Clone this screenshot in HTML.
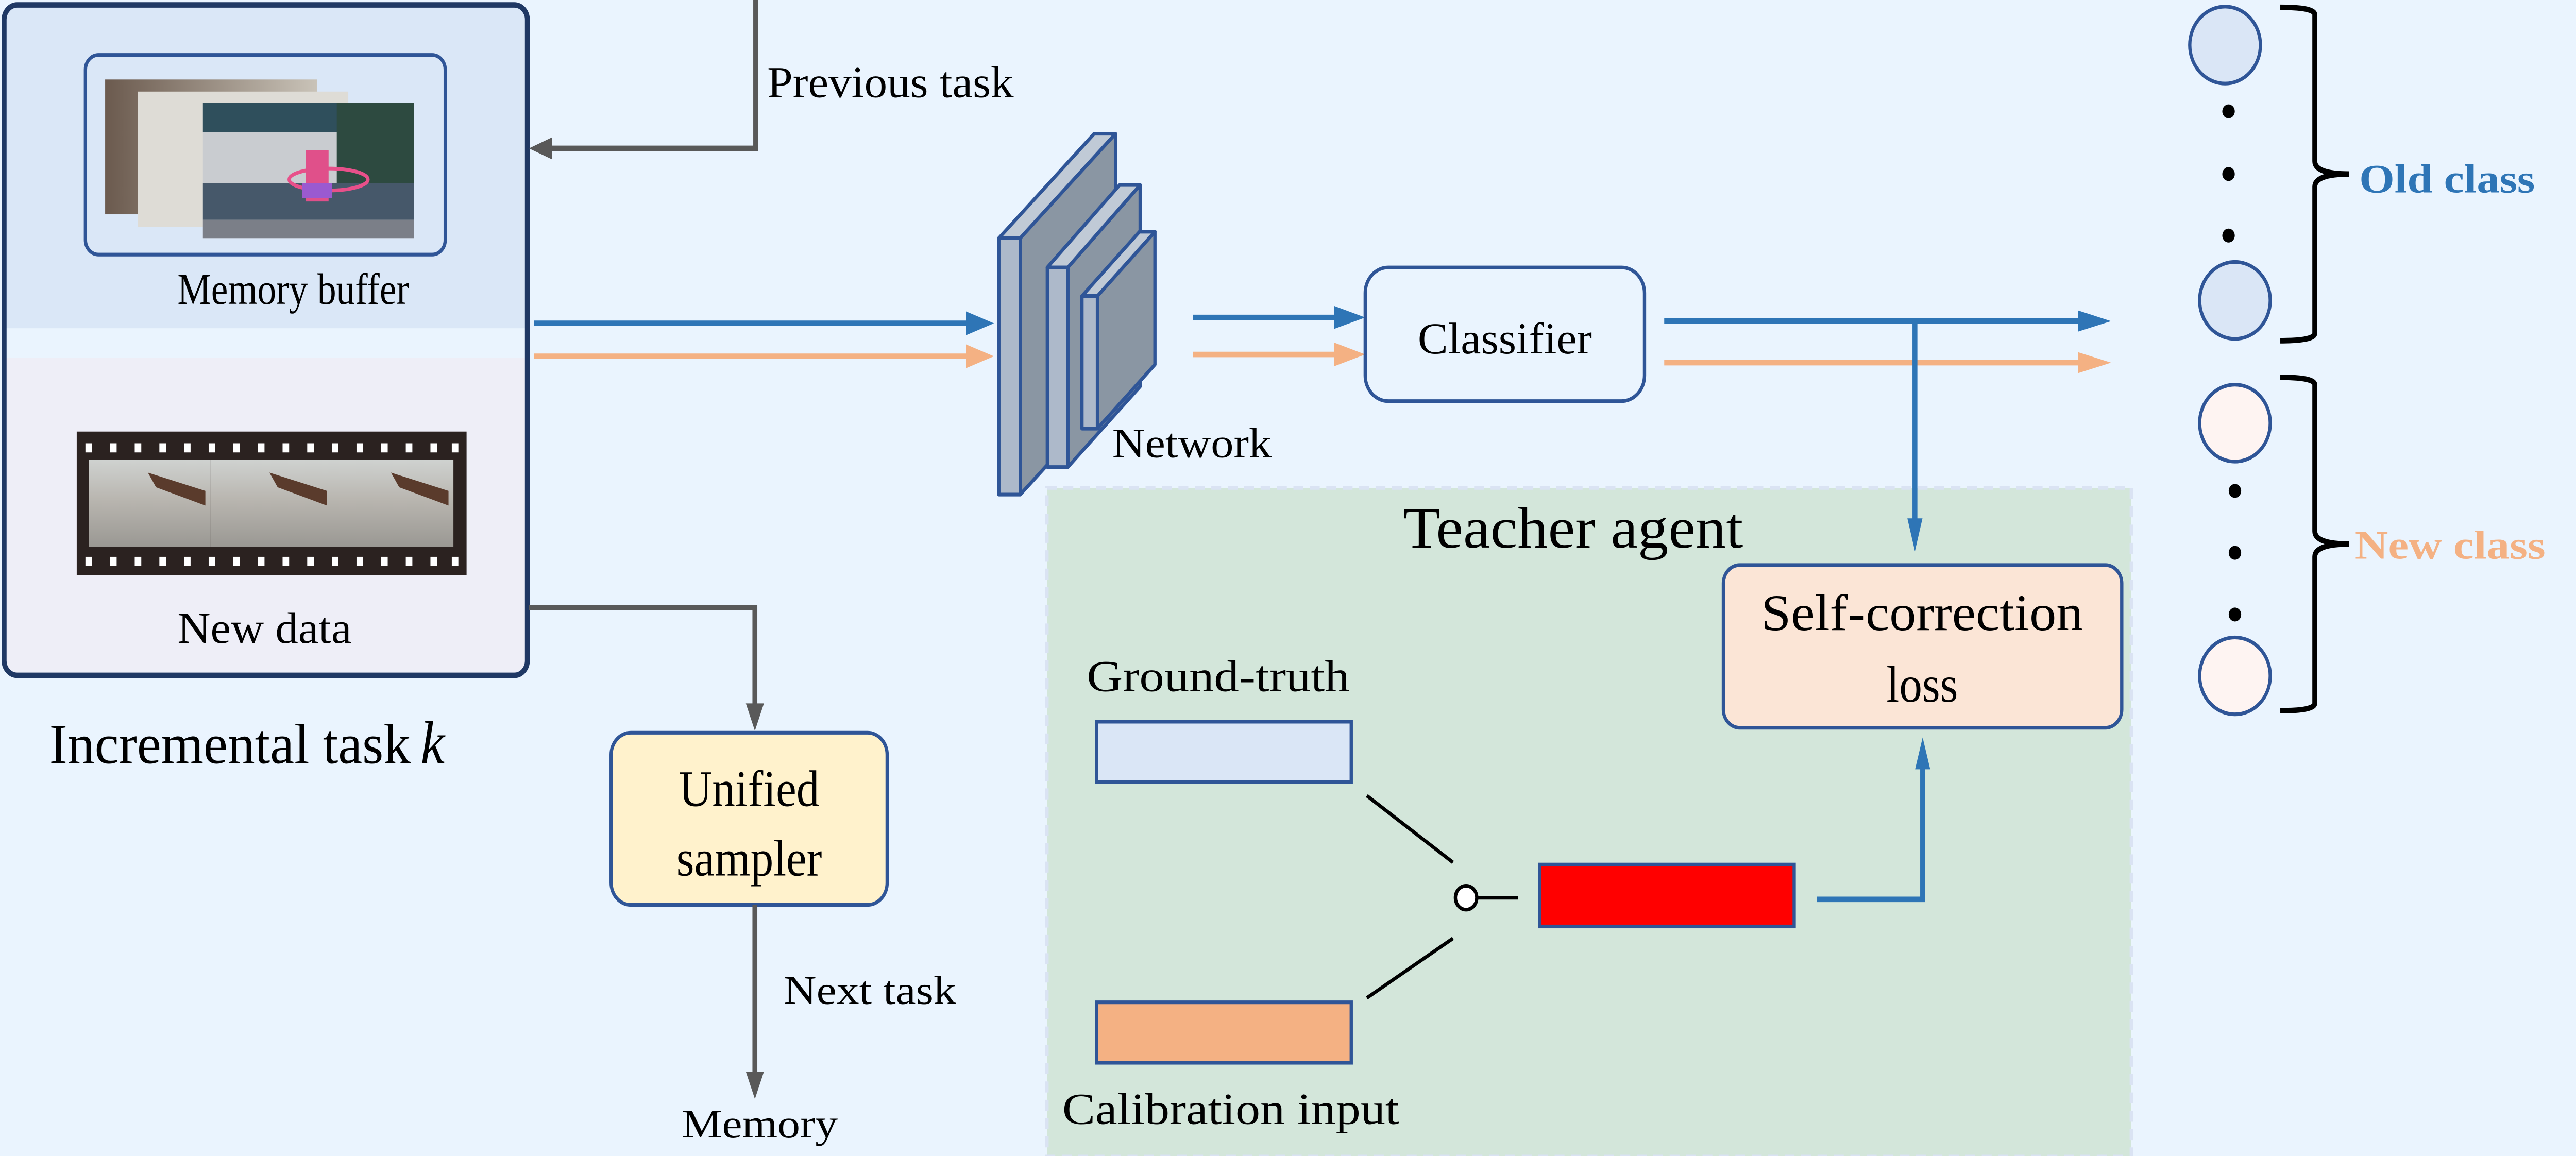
<!DOCTYPE html>
<html><head><meta charset="utf-8"><style>
html,body{margin:0;padding:0;background:#EAF4FE;overflow:hidden;width:100%;height:100%;}
svg{display:block;position:fixed;left:0;top:0;width:100vw;height:100vh;}
text{font-family:"Liberation Serif","Times New Roman",serif;fill:#000;}
</style></head><body>
<svg viewBox="0 0 1568 631.1" preserveAspectRatio="none" xmlns="http://www.w3.org/2000/svg" font-family="'Liberation Serif', 'Times New Roman', serif">
<defs>
<linearGradient id="g1" x1="0" y1="0" x2="1" y2="0"><stop offset="0" stop-color="#6b5a4e"/><stop offset="1" stop-color="#c9c3b8"/></linearGradient>
<linearGradient id="fl" x1="0" y1="0" x2="0" y2="1"><stop offset="0" stop-color="#cfd2d0"/><stop offset="0.45" stop-color="#b9b6b0"/><stop offset="1" stop-color="#9a9893"/></linearGradient>
</defs>
<rect x="0" y="0" width="1568" height="631.1" rx="8" fill="#EAF4FE"/>

<rect x="2.5" y="2.7" width="318.5" height="366" rx="8" fill="#EAF4FE"/>
<rect x="3.5" y="3.7" width="316.5" height="175.5" fill="#DAE7F7"/>
<rect x="3.5" y="195.4" width="316.5" height="172" fill="#EEEEF7"/>
<rect x="2.5" y="2.7" width="318.5" height="366" rx="8" fill="none" stroke="#1F3864" stroke-width="3"/>
<rect x="52" y="30" width="219" height="109" rx="8" fill="none" stroke="#2F5597" stroke-width="2"/>
<rect x="64" y="43.4" width="129" height="73.6" fill="url(#g1)"/>
<rect x="84" y="50" width="128" height="74" fill="#dedcd6"/>
<rect x="123.5" y="56" width="128.5" height="74" fill="#c9ccd0"/>
<rect x="123.5" y="56" width="128.5" height="16" fill="#2f4f5c"/>
<rect x="205" y="56" width="47" height="60" fill="#2d4a40"/>
<rect x="123.5" y="100" width="128.5" height="20" fill="#46586a"/>
<rect x="123.5" y="120" width="128.5" height="10" fill="#7b7f88"/>
<ellipse cx="200" cy="98" rx="24" ry="6" fill="none" stroke="#e8508a" stroke-width="2"/>
<rect x="186" y="82" width="14" height="28" fill="#e0508a"/>
<rect x="184" y="100" width="18" height="8" fill="#9a5ad0"/>
<text x="108" y="166" font-size="24" textLength="141" lengthAdjust="spacingAndGlyphs">Memory buffer</text>

<rect x="46.7" y="235.6" width="237.3" height="78.4" fill="#2B2220"/>
<rect x="54" y="251" width="74" height="47.6" fill="url(#fl)"/>
<rect x="128" y="251" width="74" height="47.6" fill="url(#fl)"/>
<rect x="202" y="251" width="74" height="47.6" fill="url(#fl)"/>
<path d="M90 258 L125 268 L125 276 L95 266Z M164 258 L199 268 L199 276 L169 266Z M238 258 L273 268 L273 276 L243 266Z" fill="#5a3b2c"/>
<g fill="#fff">
<rect x="52" y="242" width="4" height="5"/><rect x="67" y="242" width="4" height="5"/><rect x="82" y="242" width="4" height="5"/><rect x="97" y="242" width="4" height="5"/><rect x="112" y="242" width="4" height="5"/><rect x="127" y="242" width="4" height="5"/><rect x="142" y="242" width="4" height="5"/><rect x="157" y="242" width="4" height="5"/><rect x="172" y="242" width="4" height="5"/><rect x="187" y="242" width="4" height="5"/><rect x="202" y="242" width="4" height="5"/><rect x="217" y="242" width="4" height="5"/><rect x="232" y="242" width="4" height="5"/><rect x="247" y="242" width="4" height="5"/><rect x="262" y="242" width="4" height="5"/><rect x="275" y="242" width="4" height="5"/>
<rect x="52" y="304" width="4" height="5"/><rect x="67" y="304" width="4" height="5"/><rect x="82" y="304" width="4" height="5"/><rect x="97" y="304" width="4" height="5"/><rect x="112" y="304" width="4" height="5"/><rect x="127" y="304" width="4" height="5"/><rect x="142" y="304" width="4" height="5"/><rect x="157" y="304" width="4" height="5"/><rect x="172" y="304" width="4" height="5"/><rect x="187" y="304" width="4" height="5"/><rect x="202" y="304" width="4" height="5"/><rect x="217" y="304" width="4" height="5"/><rect x="232" y="304" width="4" height="5"/><rect x="247" y="304" width="4" height="5"/><rect x="262" y="304" width="4" height="5"/><rect x="275" y="304" width="4" height="5"/>
</g>
<text x="108" y="351" font-size="24" textLength="106" lengthAdjust="spacingAndGlyphs">New data</text>
<text x="30" y="416.6" font-size="31" textLength="220" lengthAdjust="spacingAndGlyphs">Incremental task</text>
<text x="256" y="416.6" font-size="33" font-style="italic">k</text>

<polyline points="460,0 460,81 332,81" fill="none" stroke="#595959" stroke-width="3"/>
<polygon points="322,81 336,75 336,87" fill="#595959"/>
<text x="467" y="53" font-size="24" textLength="150" lengthAdjust="spacingAndGlyphs">Previous task</text>

<polyline points="322,331.7 459.5,331.7 459.5,388" fill="none" stroke="#595959" stroke-width="3"/>
<polygon points="459.5,399 454,384 465,384" fill="#595959"/>
<rect x="372" y="400" width="168" height="94" rx="12" fill="#FFF2CC" stroke="#2F5597" stroke-width="2"/>
<text x="456" y="440" font-size="28" text-anchor="middle">Unified</text>
<text x="456" y="478" font-size="28" text-anchor="middle">sampler</text>
<line x1="459.5" y1="494" x2="459.5" y2="588" stroke="#595959" stroke-width="3"/>
<polygon points="459.5,600 454,585 465,585" fill="#595959"/>
<text x="477" y="548" font-size="22" textLength="105" lengthAdjust="spacingAndGlyphs">Next task</text>
<text x="415" y="621" font-size="22" textLength="95" lengthAdjust="spacingAndGlyphs">Memory</text>

<line x1="325" y1="176.5" x2="592" y2="176.5" stroke="#2E75B6" stroke-width="3"/>
<polygon points="605,176.5 588,170 588,183" fill="#2E75B6"/>
<line x1="325" y1="194.5" x2="592" y2="194.5" stroke="#F4B183" stroke-width="3"/>
<polygon points="605,194.5 588,188 588,201" fill="#F4B183"/>

<g stroke="#2F5597" stroke-width="2" stroke-linejoin="round">
<polygon points="621,130 679,73 679,213 621,270" fill="#8A96A3"/>
<polygon points="608,130 621,130 679,73 666,73" fill="#C0CAD6"/>
<rect x="608" y="130" width="13" height="140" fill="#ADB9CA"/>
<polygon points="650,146 694,101 694,211 650,255" fill="#8A96A3"/>
<polygon points="637.5,146 650,146 694,101 681.5,101" fill="#C0CAD6"/>
<rect x="637.5" y="146" width="12.5" height="109" fill="#ADB9CA"/>
<polygon points="668,161.6 703,126.5 703,199 668,234" fill="#8A96A3"/>
<polygon points="658.6,161.6 668,161.6 703,126.5 693.6,126.5" fill="#C0CAD6"/>
<rect x="658.6" y="161.6" width="9.4" height="72.4" fill="#ADB9CA"/>
</g>
<text x="677" y="249.6" font-size="23" textLength="97" lengthAdjust="spacingAndGlyphs">Network</text>

<line x1="726" y1="173.3" x2="815" y2="173.3" stroke="#2E75B6" stroke-width="3"/>
<polygon points="831,173.3 812,167 812,179.6" fill="#2E75B6"/>
<line x1="726" y1="193.5" x2="815" y2="193.5" stroke="#F4B183" stroke-width="3"/>
<polygon points="831,193.5 812,187 812,200" fill="#F4B183"/>
<rect x="831" y="146" width="170" height="73" rx="14" fill="#EAF4FE" stroke="#2F5597" stroke-width="2"/>
<text x="863" y="193" font-size="24" textLength="106" lengthAdjust="spacingAndGlyphs">Classifier</text>

<line x1="1013" y1="175.3" x2="1270" y2="175.3" stroke="#2E75B6" stroke-width="3"/>
<polygon points="1285,175.3 1265,169.5 1265,181" fill="#2E75B6"/>
<line x1="1013" y1="198" x2="1270" y2="198" stroke="#F4B183" stroke-width="3"/>
<polygon points="1285,198 1265,192.3 1265,203.7" fill="#F4B183"/>

<rect x="637.3" y="266.4" width="660" height="365" fill="#D3E6DA" stroke="#DAE3F3" stroke-width="2" stroke-dasharray="6,4"/>
<text x="854" y="299" font-size="32" textLength="207" lengthAdjust="spacingAndGlyphs">Teacher agent</text>

<line x1="1165.6" y1="175.3" x2="1165.6" y2="290" stroke="#2E75B6" stroke-width="3"/>
<polygon points="1165.6,301 1161,283 1170.2,283" fill="#2E75B6"/>
<rect x="1049" y="308.5" width="242.5" height="88.8" rx="10" fill="#FBE5D6" stroke="#2F5597" stroke-width="2"/>
<text x="1170" y="344" font-size="28" text-anchor="middle" textLength="196" lengthAdjust="spacingAndGlyphs">Self-correction</text>
<text x="1170" y="383" font-size="28" text-anchor="middle">loss</text>

<text x="661.5" y="377.3" font-size="24" textLength="160" lengthAdjust="spacingAndGlyphs">Ground-truth</text>
<rect x="667.5" y="394" width="155" height="33" fill="#DAE6F6" stroke="#2F5597" stroke-width="2"/>
<rect x="667.5" y="547.2" width="155" height="33" fill="#F4B183" stroke="#2F5597" stroke-width="2"/>
<text x="646.6" y="613.5" font-size="24" textLength="205" lengthAdjust="spacingAndGlyphs">Calibration input</text>
<line x1="832" y1="434.4" x2="884.4" y2="470.8" stroke="#000" stroke-width="2"/>
<line x1="832" y1="544.8" x2="884.4" y2="512.3" stroke="#000" stroke-width="2"/>
<circle cx="892.4" cy="490.1" r="6.5" fill="#fff" stroke="#000" stroke-width="2"/>
<line x1="899" y1="490.1" x2="924" y2="490.1" stroke="#000" stroke-width="2"/>
<rect x="937.1" y="472" width="155" height="33.8" fill="#FF0000" stroke="#2F5597" stroke-width="2"/>
<polyline points="1106,491 1170.3,491 1170.3,414" fill="none" stroke="#2E75B6" stroke-width="3"/>
<polygon points="1170.3,402.6 1165.7,420 1174.9,420" fill="#2E75B6"/>

<g stroke="#2F5597" stroke-width="2">
<ellipse cx="1354.4" cy="24.6" rx="21.5" ry="21" fill="#DAE6F6"/>
<ellipse cx="1360.4" cy="164" rx="21.5" ry="21" fill="#DAE6F6"/>
<ellipse cx="1360.4" cy="231" rx="21.5" ry="21" fill="#FEF4F2"/>
<ellipse cx="1360.4" cy="369" rx="21.5" ry="21" fill="#FEF4F2"/>
</g>
<g fill="#000">
<circle cx="1356.5" cy="60.8" r="3.8"/><circle cx="1356.5" cy="95" r="3.8"/><circle cx="1356.5" cy="128.6" r="3.8"/>
<circle cx="1360.4" cy="268" r="3.8"/><circle cx="1360.4" cy="301.8" r="3.8"/><circle cx="1360.4" cy="335.5" r="3.8"/>
</g>
<path d="M1388,4 Q1409,4 1409,8 L1409,88 Q1409,95 1430,95 Q1409,95 1409,102 L1409,182 Q1409,186 1388,186" fill="none" stroke="#000" stroke-width="3"/>
<path d="M1388,206 Q1409,206 1409,210 L1409,290 Q1409,297 1430,297 Q1409,297 1409,304 L1409,384 Q1409,388 1388,388" fill="none" stroke="#000" stroke-width="3"/>
<text x="1436" y="105" font-size="22" font-weight="bold" style="fill:#2E75B6" textLength="107" lengthAdjust="spacingAndGlyphs">Old class</text>
<text x="1433.4" y="305" font-size="22" font-weight="bold" style="fill:#F4B183" textLength="116" lengthAdjust="spacingAndGlyphs">New class</text>
</svg>
</body></html>
